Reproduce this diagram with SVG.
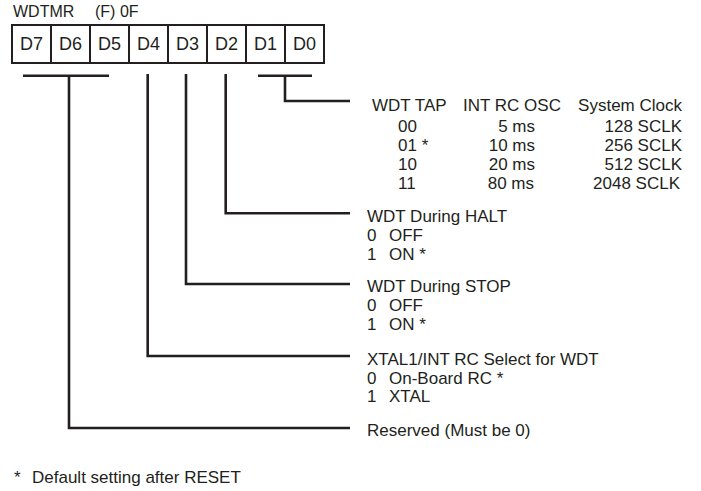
<svg xmlns="http://www.w3.org/2000/svg" width="701" height="491" viewBox="0 0 701 491">
<style>
text{font-family:"Liberation Sans",Arial,sans-serif;font-size:17px;fill:#231f20}
.t{font-size:16px}
.c{font-size:18px;text-anchor:middle}
.r{text-anchor:end}
.box{fill:none;stroke:#231f20;stroke-width:2}
.ln{fill:none;stroke:#231f20;stroke-width:2.6}
</style>
<rect width="701" height="491" fill="#fff"/>
<g id="title"><text class="t" x="13" y="17">WDTMR</text><text class="t" x="95" y="17">(F) 0F</text></g>
<g id="register">
<rect class="box" x="12" y="25" width="312" height="38"/>
<path class="box" d="M51 25V63M90 25V63M129 25V63M168 25V63M207 25V63M246 25V63M285 25V63"/>
<text class="c" x="31.5" y="50">D7</text><text class="c" x="70.5" y="50">D6</text><text class="c" x="109.5" y="50">D5</text><text class="c" x="148.5" y="50">D4</text><text class="c" x="187.5" y="50">D3</text><text class="c" x="226.5" y="50">D2</text><text class="c" x="265.5" y="50">D1</text><text class="c" x="304.5" y="50">D0</text>
</g>
<g id="connectors">
<path class="ln" d="M23 75.7H109M69 75.7V428H350"/>
<path class="ln" d="M147.7 74V356H350"/>
<path class="ln" d="M186 74V284H350"/>
<path class="ln" d="M225.7 74V213.3H350"/>
<path class="ln" d="M258 75.7H312M285 75.7V101H350"/>
</g>
<g id="tap">
<text x="372" y="111">WDT TAP</text><text x="463" y="111">INT RC OSC</text><text class="r" x="682" y="111">System Clock</text>
<text x="398" y="132">00</text><text class="r" x="535" y="132">5 ms</text><text class="r" x="682" y="132">128 SCLK</text>
<text x="398" y="151">01 *</text><text class="r" x="535" y="151">10 ms</text><text class="r" x="682" y="151">256 SCLK</text>
<text x="398" y="170">10</text><text class="r" x="535" y="170">20 ms</text><text class="r" x="682" y="170">512 SCLK</text>
<text x="398" y="189">11</text><text class="r" x="534" y="189">80 ms</text><text class="r" x="680" y="189">2048 SCLK</text>
</g>
<g id="halt">
<text x="367" y="221.5">WDT During HALT</text>
<text x="367" y="240.5">0</text><text x="389" y="240.5">OFF</text>
<text x="367" y="259.5">1</text><text x="389" y="259.5">ON *</text>
</g>
<g id="stop">
<text x="367" y="292">WDT During STOP</text>
<text x="367" y="311">0</text><text x="389" y="311">OFF</text>
<text x="367" y="330">1</text><text x="389" y="330">ON *</text>
</g>
<g id="xtal">
<text x="367" y="364.5">XTAL1/INT RC Select for WDT</text>
<text x="367" y="383.5">0</text><text x="389" y="383.5">On-Board RC *</text>
<text x="367" y="402">1</text><text x="389" y="402">XTAL</text>
</g>
<g id="reserved"><text x="367" y="436">Reserved (Must be 0)</text></g>
<g id="footnote"><text x="14" y="483">*</text><text x="32" y="483">Default setting after RESET</text></g>
</svg>
